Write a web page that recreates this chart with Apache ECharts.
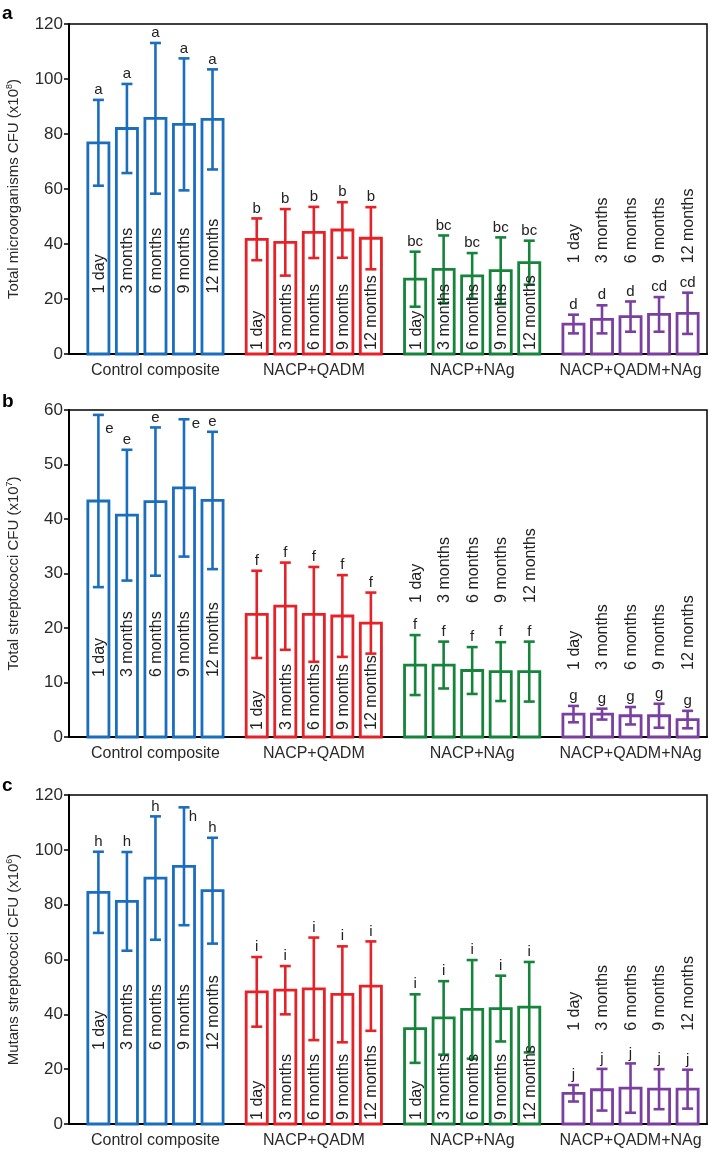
<!DOCTYPE html>
<html>
<head>
<meta charset="utf-8">
<script src="https://cdn.jsdelivr.net/npm/echarts@6/dist/echarts.min.js"></script>
<style>
html,body{margin:0;padding:0;background:#fff;}
#chart{width:710px;height:1155px;}
</style>
</head>
<body>
<div id="chart"></div>
<script>
// groups and time points
var groups = ['Control composite', 'NACP+QADM', 'NACP+NAg', 'NACP+QADM+NAg'];
var times = ['1 day', '3 months', '6 months', '9 months', '12 months'];
var colors = ['#1b6ebe', '#e52228', '#17843c', '#7b3fa0'];

// panel a: total microorganisms (x10^8)
var meanA = [76.8, 82.0, 85.7, 83.5, 85.3,  41.7, 40.6, 44.2, 45.1, 42.1,  27.2, 30.8, 28.4, 30.3, 33.2,  10.9, 12.6, 13.6, 14.4, 14.8];
var sdA   = [15.6, 16.2, 27.4, 24.0, 18.2,   7.6, 12.1,  9.3, 10.1, 11.3,  10.0, 12.3,  8.3, 12.1,  8.0,   3.4,  5.1,  5.5,  6.3,  7.5];
var letA  = ['a','a','a','a','a', 'b','b','b','b','b', 'bc','bc','bc','bc','bc', 'd','d','d','cd','cd'];

// panel b: total streptococci (x10^7)
var meanB = [43.3, 40.7, 43.2, 45.7, 43.4,  22.5, 24.0, 22.5, 22.2, 20.9,  13.2, 13.2, 12.2, 12.0, 12.0,  4.2, 4.2, 3.9, 3.9, 3.2];
var sdB   = [15.8, 12.0, 13.6, 12.6, 12.6,   8.0,  8.0,  8.7,  7.5,  5.6,   5.5,  4.3,  4.3,  5.4,  5.5,  1.5, 1.0, 1.6, 2.2, 1.6];
var letB  = ['e','e','e','e','e', 'f','f','f','f','f', 'f','f','f','f','f', 'g','g','g','g','g'];

// panel c: mutans streptococci (x10^6)
var meanC = [84.5, 81.2, 89.7, 94.0, 85.1,  48.2, 48.8, 49.3, 47.3, 50.3,  34.8, 38.7, 41.8, 42.1, 42.6,  11.2, 12.5, 13.1, 12.7, 12.7];
var sdC   = [14.8, 18.0, 22.5, 21.5, 19.3,  12.7,  8.8, 18.7, 17.5, 16.3,  12.5, 13.4, 18.0, 12.0, 16.5,   3.0,  7.6,  9.0,  7.3,  7.1];
var letC  = ['h','h','h','h','h', 'i','i','i','i','i', 'i','i','i','i','i', 'j','j','j','j','j'];

var yTitles = ['Total microorganisms CFU (x10{s|8})', 'Total streptococci CFU (x10{s|7})', 'Mutans streptococci CFU (x10{s|6})'];
var yMax = [120, 60, 120];
var yStep = [20, 10, 20];

// layout bits (not data)
var groupStep = 5.55;
var labelBase = [[22, 1.5, 1.5, 33], [11, 1.3, 24.6, 12.3], [27, 1.5, 1.5, 34]];
var letterShift = [{}, {0: [11, 24], 3: [12, 15]}, {3: [9, 20]}];
var gridTops = [24, 410, 795];
var gridHeights = [330, 327, 329];
var panelTags = ['a', 'b', 'c'];
var tagY = [14, 402, 786];

function xPos(i) { return Math.floor(i / 5) * groupStep + (i % 5); }

var panels = [[meanA, sdA, letA], [meanB, sdB, letB], [meanC, sdC, letC]];
var font = 'Liberation Sans, Arial, sans-serif';

var grids = [], xAxes = [], yAxes = [], series = [];
panels.forEach(function (p, k) {
  grids.push({left: 69, right: 3, top: gridTops[k], height: gridHeights[k], show: true,
    containLabel: false, outerBoundsMode: 'none',
    borderColor: '#000', borderWidth: 1.5, backgroundColor: 'transparent'});
  xAxes.push({type: 'value', gridIndex: k, min: -1.03, max: 21.33,
    splitLine: {show: false}, axisTick: {show: false},
    axisLine: {show: true, onZero: false, lineStyle: {color: '#000', width: 2}},
    axisLabel: {customValues: groups.map(function (g, j) { return j * groupStep + 2; }),
      formatter: function (v) { return groups[Math.round((v - 2) / groupStep)]; },
      fontSize: 16, color: '#2a2a2a', fontFamily: font, margin: 9}});
  yAxes.push({type: 'value', gridIndex: k, min: 0, max: yMax[k], interval: yStep[k],
    splitLine: {show: false},
    axisLine: {show: true, onZero: false, lineStyle: {color: '#000', width: 2}},
    axisTick: {show: true, length: 5, lineStyle: {color: '#000', width: 1.5}},
    axisLabel: {fontSize: 17, color: '#2a2a2a', fontFamily: font, margin: 6},
    name: yTitles[k], nameLocation: 'middle', nameGap: 47,
    nameTextStyle: {fontSize: 15, color: '#2a2a2a', fontFamily: font,
      rich: {s: {fontSize: 9, verticalAlign: 'top', padding: [0, 0, 8, 0], color: '#2a2a2a', fontFamily: font}}}});

  var data = p[0].map(function (m, i) { return [xPos(i), m, p[1][i], i]; });
  series.push({type: 'custom', xAxisIndex: k, yAxisIndex: k, clip: false, data: data,
    renderItem: function (params, api) {
      var x = api.value(0), m = api.value(1), sd = api.value(2), i = api.value(3);
      var g = Math.floor(i / 5), col = colors[g];
      var base = api.coord([x, 0]), top = api.coord([x, m]);
      var hi = api.coord([x, m + sd]), lo = api.coord([x, m - sd]);
      var w = api.size([0.74, 0])[0];
      var lab = api.coord([x, labelBase[k][g]]);
      var sh = letterShift[k][i] || [0, 0];
      return {type: 'group', children: [
        {type: 'rect', shape: {x: base[0] - w / 2, y: top[1], width: w, height: base[1] - top[1]},
          style: {fill: 'none', stroke: col, lineWidth: 2.8}},
        {type: 'line', shape: {x1: base[0], y1: lo[1], x2: base[0], y2: hi[1]}, style: {stroke: col, lineWidth: 2.6}},
        {type: 'line', shape: {x1: base[0] - 5.5, y1: hi[1], x2: base[0] + 5.5, y2: hi[1]}, style: {stroke: col, lineWidth: 2.6}},
        {type: 'line', shape: {x1: base[0] - 5.5, y1: lo[1], x2: base[0] + 5.5, y2: lo[1]}, style: {stroke: col, lineWidth: 2.6}},
        {type: 'text', x: base[0] + sh[0], y: hi[1] - 10 + sh[1],
          style: {text: p[2][i], fill: '#222', font: '15px ' + font, align: 'center', verticalAlign: 'middle'}},
        {type: 'text', x: lab[0] + 1, y: lab[1], rotation: Math.PI / 2,
          style: {text: times[i % 5], fill: '#222', font: '16px ' + font, align: 'left', verticalAlign: 'middle'}}
      ]};
    }});
});

var chart = echarts.init(document.getElementById('chart'), null, {renderer: 'canvas'});
chart.setOption({
  animation: false,
  backgroundColor: '#fff',
  grid: grids, xAxis: xAxes, yAxis: yAxes, series: series,
  graphic: panelTags.map(function (t, k) {
    return {type: 'text', left: 2, top: tagY[k] - 10,
      style: {text: t, font: 'bold 19px ' + font, fill: '#000'}};
  })
});
</script>
</body>
</html>
